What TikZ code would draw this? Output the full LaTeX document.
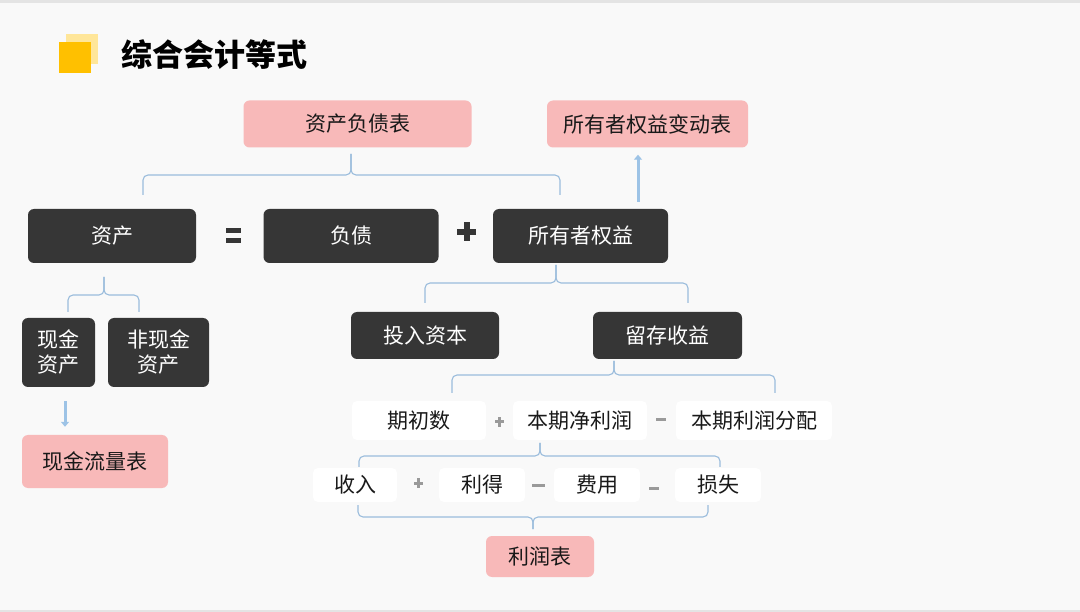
\documentclass[tikz,border=0pt]{standalone}
\usepackage{fontspec}
\setmainfont{Noto Sans CJK SC}
\usetikzlibrary{arrows.meta}
\definecolor{bgc}{HTML}{F9F9F9}
\definecolor{bandc}{HTML}{E4E4E4}
\definecolor{pinkc}{HTML}{F8B9B9}
\definecolor{darkc}{HTML}{363636}
\definecolor{bracec}{HTML}{9ABCDC}
\definecolor{arrowc}{HTML}{9DC3E6}
\definecolor{opc}{HTML}{9A9A9A}
\definecolor{yelc}{HTML}{FFC000}
\definecolor{lyelc}{HTML}{FFE699}
\tikzset{
  box/.style={rounded corners=6pt, inner sep=0pt, align=center, font=\fontsize{21}{26}\selectfont},
  darkbox/.style={box, fill=darkc, text=white},
  pinkbox/.style={box, fill=pinkc, text=black!90},
  whitebox/.style={box, fill=white, text=black!90, rounded corners=5pt},
  bracel/.style={draw=bracec, line width=1.1pt, rounded corners=5pt},
  uparrow/.style={draw=arrowc, line width=3pt, -{Triangle[length=5pt,width=8pt]}},
}
\begin{document}
\begin{tikzpicture}[x=1pt,y=-1pt]
\useasboundingbox (0,0) rectangle (1080,612);
\fill[bgc] (0,0) rectangle (1080,612);
\fill[bandc] (0,0) rectangle (1080,3);
\fill[bandc] (0,610) rectangle (1080,612);
% title
\fill[lyelc] (66,34) rectangle (98,64);
\fill[yelc] (59,42) rectangle (91,73);
\node[anchor=west, inner sep=0pt, font=\fontsize{31}{35}\selectfont\bfseries] (title) at (121,55) {综合会计等式};
% top reports
\node[pinkbox, minimum width=228pt, minimum height=47pt] (bs) at (357.5,124) {资产负债表};
\node[pinkbox, minimum width=201pt, minimum height=47pt] (oe) at (647.5,124) {所有者权益变动表};
% equation row
\node[darkbox, minimum width=168pt, minimum height=54pt] (zc) at (112,236) {资产};
\node[darkbox, minimum width=175pt, minimum height=54pt] (fz) at (351,236) {负债};
\node[darkbox, minimum width=175pt, minimum height=54pt] (sy) at (580.5,236) {所有者权益};
% = and +
\fill[darkc] (226,228) rectangle (241,233);
\fill[darkc] (226,238) rectangle (241,243);
\fill[darkc] (457,229) rectangle (476,235);
\fill[darkc] (463.5,222.5) rectangle (469.5,241.5);
% equity split
\node[darkbox, minimum width=148pt, minimum height=47pt] (tr) at (425,335.5) {投入资本};
\node[darkbox, minimum width=149pt, minimum height=47pt] (lc) at (667.5,335.5) {留存收益};
% retained earnings
\node[whitebox, minimum width=134pt, minimum height=39pt] (qc) at (419,420.5) {期初数};
\node[whitebox, minimum width=134pt, minimum height=39pt] (jl) at (580,420.5) {本期净利润};
\node[whitebox, minimum width=156pt, minimum height=39pt] (fp) at (754,420.5) {本期利润分配};
\fill[opc] (495,420.5) rectangle (504,423.5);
\fill[opc] (498,417) rectangle (501,427);
\fill[opc] (656,418) rectangle (666,421);
% net income
\node[whitebox, minimum width=84pt, minimum height=34pt] (sr) at (355,485) {收入};
\node[whitebox, minimum width=86pt, minimum height=34pt] (ld) at (482,485) {利得};
\node[whitebox, minimum width=86pt, minimum height=34pt] (fy) at (597,485) {费用};
\node[whitebox, minimum width=86pt, minimum height=34pt] (ss) at (718,485) {损失};
\fill[opc] (414,481.5) rectangle (423,484.5);
\fill[opc] (417,478) rectangle (420,488);
\fill[opc] (532,484) rectangle (545,487);
\fill[opc] (649,487) rectangle (659,490);
\node[pinkbox, minimum width=108pt, minimum height=41pt] (lr) at (540,556.5) {利润表};
% assets split
\node[darkbox, minimum width=73pt, minimum height=69pt, font=\fontsize{21}{25}\selectfont] (xj) at (58.5,352.5) {现金\\资产};
\node[darkbox, minimum width=101pt, minimum height=69pt, font=\fontsize{21}{25}\selectfont] (fx) at (158.5,352.5) {非现金\\资产};
\node[pinkbox, minimum width=146pt, minimum height=53pt] (ll) at (95,461.5) {现金流量表};
% brace coordinates
\coordinate (b1t) at (351,154);
\coordinate (b1l) at (143,195);
\coordinate (b1r) at (560,195);
\coordinate (b2t) at (104,277);
\coordinate (b2l) at (68,312);
\coordinate (b2r) at (139,312);
\coordinate (b3t) at (556,265);
\coordinate (b3l) at (425,303);
\coordinate (b3r) at (688,303);
\coordinate (b4t) at (614,361);
\coordinate (b4l) at (452,393);
\coordinate (b4r) at (775,393);
\coordinate (b5t) at (540,443);
\coordinate (b5l) at (359,467);
\coordinate (b5r) at (720,467);
\coordinate (b6t) at (533,529);
\coordinate (b6l) at (358,505);
\coordinate (b6r) at (708,505);
% braces: bs -> zc..sy
\draw[bracel] (b1l) |- (351,175) -- (b1t);
\draw[bracel] (b1r) |- (351,175) -- (b1t);
% zc -> xj, fx
\draw[bracel] (b2l) |- (104,295) -- (b2t);
\draw[bracel] (b2r) |- (104,295) -- (b2t);
% sy -> tr, lc
\draw[bracel] (b3l) |- (556,283) -- (b3t);
\draw[bracel] (b3r) |- (556,283) -- (b3t);
% lc -> qc, jl, fp
\draw[bracel] (b4l) |- (614,375) -- (b4t);
\draw[bracel] (b4r) |- (614,375) -- (b4t);
% jl -> sr..ss
\draw[bracel] (b5l) |- (540,456) -- (b5t);
\draw[bracel] (b5r) |- (540,456) -- (b5t);
% sr..ss -> lr
\draw[bracel] (b6l) |- (533,517) -- (b6t);
\draw[bracel] (b6r) |- (533,517) -- (b6t);
% arrows
\coordinate (a1x) at (638,0);
\coordinate (a2x) at (65,0);
\draw[uparrow] ([yshift=7pt]sy.north -| a1x) -- ([yshift=-7pt]oe.south -| a1x);
\draw[uparrow] ([yshift=-14pt]xj.south -| a2x) -- ([yshift=8pt]ll.north -| a2x);
\end{tikzpicture}
\end{document}
